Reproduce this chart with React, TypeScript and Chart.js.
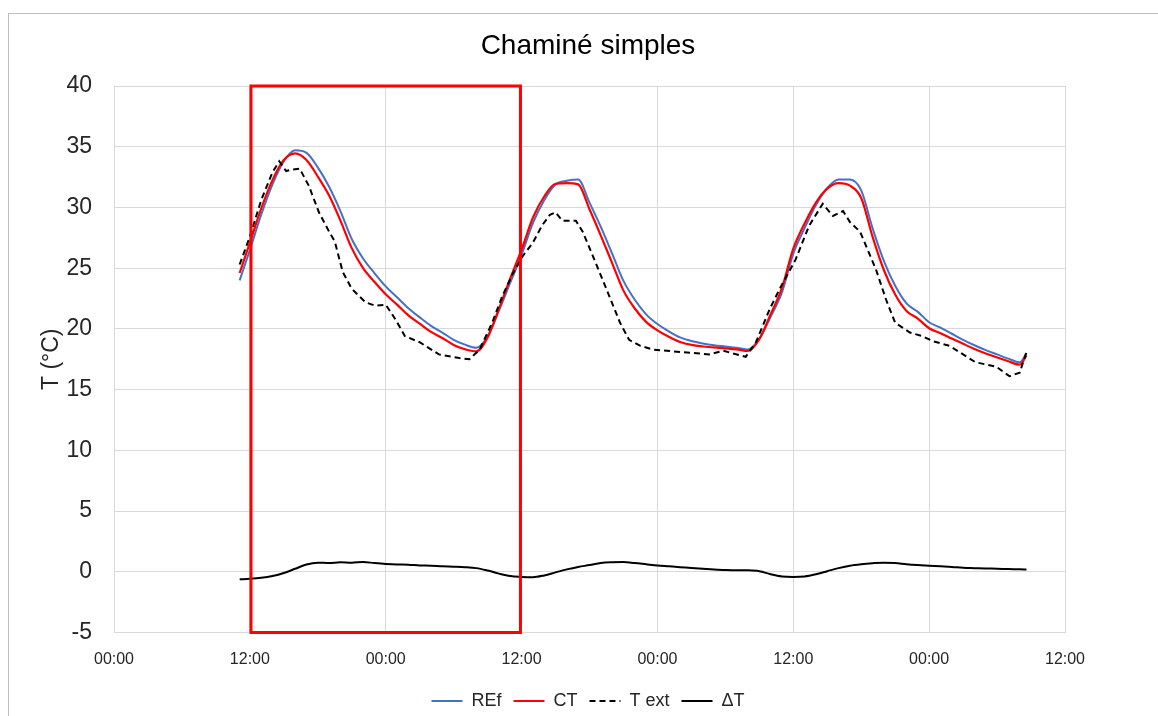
import React, { useEffect, useRef } from "react";
import { Chart, registerables } from "chart.js";

Chart.register(...registerables);

const chartTitle = "Chaminé simples";
const yAxisTitle = "T (°C)";
const seriesNames = ["REf", "CT", "T ext", "ΔT"];

// time in hours since the first 00:00 on the axis
const hours = [
  11.1, 12, 13, 14, 15, 16, 17, 18, 19, 20, 21, 22, 23, 24, 25, 26, 27, 28, 29, 30,
  31, 32, 33, 34, 35, 36, 37, 38, 39, 40, 41, 42, 43, 44, 45, 46, 47, 48, 49, 50,
  51, 52, 53, 54, 55, 56, 57, 58, 59, 60, 61, 62, 63, 64, 65, 66, 67, 68, 69, 70,
  71, 72, 73, 74, 75, 76, 77, 78, 79, 80, 80.6,
];

const refValues = [
  24.0, 26.5, 29.4, 31.9, 33.8, 34.7, 34.5, 33.3, 31.7, 29.7, 27.4, 25.8, 24.6, 23.5, 22.6, 21.7, 20.95, 20.25, 19.7, 19.1,
  18.7, 18.45, 19.4, 21.5, 23.8, 26.1, 28.7, 30.6, 31.9, 32.2, 32.3, 30.4, 28.4, 26.2, 23.95, 22.4, 21.2, 20.4, 19.8, 19.3,
  19.0, 18.8, 18.65, 18.55, 18.45, 18.3, 19.2, 21.0, 23.0, 26.2, 28.3, 30.2, 31.6, 32.3, 32.3, 31.4, 28.3, 25.6, 23.55, 22.1,
  21.4, 20.55, 20.1, 19.6, 19.1, 18.65, 18.25, 17.9, 17.55, 17.25, 18.0,
];

const ctValues = [
  24.6, 27.1, 29.9, 32.25, 33.9, 34.45, 33.9, 32.55, 30.98, 28.92, 26.65, 25.0, 23.88, 22.85, 22.0, 21.12, 20.43, 19.75, 19.25, 18.68,
  18.32, 18.15, 19.3, 21.65, 24.15, 26.52, 29.15, 30.9, 31.95, 32.0, 31.9, 29.85, 27.68, 25.42, 23.15, 21.68, 20.58, 19.88, 19.35, 18.92,
  18.68, 18.55, 18.47, 18.4, 18.32, 18.18, 19.15, 21.2, 23.38, 26.62, 28.68, 30.4, 31.55, 32.0, 31.8, 30.78, 27.6, 24.85, 22.83, 21.48,
  20.85, 20.05, 19.65, 19.2, 18.77, 18.35, 17.98, 17.65, 17.33, 17.05, 17.82,
];

const deltaValues = [
  -0.62, -0.58, -0.5, -0.35, -0.1, 0.25, 0.6, 0.75, 0.72, 0.78, 0.75, 0.8, 0.72, 0.65, 0.6, 0.58, 0.52, 0.5, 0.45, 0.42,
  0.38, 0.3, 0.1, -0.15, -0.35, -0.42, -0.45, -0.3, -0.05, 0.2, 0.4, 0.55, 0.72, 0.78, 0.8, 0.72, 0.62, 0.52, 0.45, 0.38,
  0.32, 0.25, 0.18, 0.15, 0.13, 0.12, 0.05, -0.2, -0.38, -0.42, -0.38, -0.2, 0.05, 0.3, 0.5, 0.62, 0.7, 0.75, 0.72, 0.62,
  0.55, 0.5, 0.45, 0.4, 0.33, 0.3, 0.27, 0.25, 0.22, 0.2, 0.18,
];

const textHours = [
  11.1, 12, 13, 14, 14.6, 15.2, 15.6, 16.4, 17.2, 18.1, 19, 19.5, 20.2, 21, 22.2, 23.1, 24, 24.85, 25.7, 27,
  28.7, 30.5, 31.4, 32.3, 33.4, 34.3, 35.2, 36.1, 37, 37.8, 38.5, 39, 39.6, 40.8, 41.4, 42.3, 43.4, 44.7, 45.5, 46.5,
  47.6, 50, 52.6, 53.8, 55.8, 56.7, 57.9, 58.8, 60.2, 61.4, 62.6, 63.5, 64.4, 65, 65.9, 67.3, 68.2, 69, 70.3, 71.4,
  72.3, 73.8, 76.1, 77.9, 79.1, 80, 80.6,
];

const textValues = [
  25.3, 27.6, 30.6, 32.9, 33.8, 33.0, 33.1, 33.2, 31.8, 29.6, 28.0, 27.2, 24.7, 23.3, 22.2, 21.9, 22.0, 20.8, 19.4, 18.9,
  17.9, 17.6, 17.5, 18.3, 20.5, 22.7, 24.5, 26.0, 27.1, 28.5, 29.4, 29.6, 28.9, 28.9, 28.0, 26.0, 23.5, 20.5, 19.1, 18.6,
  18.3, 18.1, 17.9, 18.2, 17.7, 18.9, 21.6, 23.3, 25.7, 28.5, 30.3, 29.3, 29.7, 28.8, 28.0, 24.9, 22.4, 20.5, 19.7, 19.4,
  19.0, 18.6, 17.25, 16.9, 16.1, 16.4, 18.1,
];

// highlighted period (hours) of the red frame
const highlightStart = 12.1;
const highlightEnd = 35.9;
const highlightTop = 40;
const highlightBottom = -5;

const xMin = 0;
const xMax = 84;
const xStep = 12;
const yMin = -5;
const yMax = 40;
const yStep = 5;

const FONT = "'Liberation Sans', Arial, sans-serif";

const toPoints = (xs: number[], ys: number[]) => xs.map((x, i) => ({ x, y: ys[i] }));

const highlightPlugin = {
  id: "highlightFrame",
  afterDatasetsDraw(chart: any) {
    const { ctx, scales } = chart;
    const x1 = scales.x.getPixelForValue(highlightStart);
    const x2 = scales.x.getPixelForValue(highlightEnd);
    const y1 = scales.y.getPixelForValue(highlightTop);
    const y2 = scales.y.getPixelForValue(highlightBottom);
    ctx.save();
    ctx.strokeStyle = "#FF0000";
    ctx.lineWidth = 3;
    ctx.strokeRect(x1, y1, x2 - x1, y2 - y1);
    ctx.restore();
  },
};

const legendShiftPlugin = {
  id: "legendShift",
  afterLayout(chart: any) {
    if (chart.legend) {
      chart.legend.top += 4;
      chart.legend.bottom += 4;
    }
  },
};

export default function App() {
  const canvasRef = useRef<HTMLCanvasElement | null>(null);

  useEffect(() => {
    if (!canvasRef.current) return;
    const chart = new Chart(canvasRef.current, {
      type: "line",
      data: {
        datasets: [
          {
            label: seriesNames[0],
            data: toPoints(hours, refValues),
            borderColor: "#4472C4",
            backgroundColor: "#4472C4",
            borderWidth: 2,
            pointRadius: 0,
            cubicInterpolationMode: "monotone",
            order: 4,
          },
          {
            label: seriesNames[1],
            data: toPoints(hours, ctValues),
            borderColor: "#FF0000",
            backgroundColor: "#FF0000",
            borderWidth: 2.2,
            pointRadius: 0,
            cubicInterpolationMode: "monotone",
            order: 3,
          },
          {
            label: seriesNames[2],
            data: toPoints(textHours, textValues),
            borderColor: "#000000",
            backgroundColor: "#000000",
            borderWidth: 2,
            borderDash: [6, 4],
            pointRadius: 0,
            order: 2,
          },
          {
            label: seriesNames[3],
            data: toPoints(hours, deltaValues),
            borderColor: "#000000",
            backgroundColor: "#000000",
            borderWidth: 2,
            pointRadius: 0,
            cubicInterpolationMode: "monotone",
            order: 1,
          },
        ],
      },
      options: {
        animation: false,
        responsive: false,
        maintainAspectRatio: false,
        layout: { padding: { left: 18, right: 0, top: 0, bottom: 0 } },
        plugins: {
          title: {
            display: true,
            text: chartTitle,
            color: "#000000",
            font: { family: FONT, size: 28, weight: "normal" },
            padding: { top: 29, bottom: 23.4 },
          },
          legend: {
            position: "bottom",
            labels: {
              color: "#262626",
              font: { family: FONT, size: 18 },
              usePointStyle: true,
              pointStyle: "line",
              pointStyleWidth: 31,
              boxHeight: 18,
              padding: 12,
              sort: (a: any, b: any) => a.datasetIndex - b.datasetIndex,
              generateLabels: (chart: any) => {
                const items = Chart.defaults.plugins.legend.labels.generateLabels(chart);
                items.forEach((it: any) => {
                  const ds = chart.data.datasets[it.datasetIndex];
                  it.lineDash = ds.borderDash || [];
                  it.strokeStyle = ds.borderColor;
                  it.lineWidth = 2;
                });
                return items;
              },
            },
          },
          tooltip: { enabled: false },
        },
        scales: {
          x: {
            type: "linear",
            min: xMin,
            max: xMax,
            afterFit: (scale: any) => {
              scale.height = 43.5;
            },
            afterBuildTicks: (scale: any) => {
              const t = [];
              for (let v = xMin; v <= xMax; v += xStep) t.push({ value: v });
              scale.ticks = t;
            },
            ticks: {
              stepSize: xStep,
              padding: 17,
              color: "#262626",
              font: { family: FONT, size: 16 },
              maxRotation: 0,
              autoSkip: false,
              callback: (v: any) => {
                const h = ((Number(v) % 24) + 24) % 24;
                return String(h).padStart(2, "0") + ":00";
              },
            },
            grid: { color: "#D9D9D9", lineWidth: 1, drawTicks: false },
            border: { color: "#D9D9D9" },
          },
          y: {
            min: yMin,
            max: yMax,
            afterFit: (scale: any) => {
              scale.width = 96;
            },
            ticks: {
              stepSize: yStep,
              padding: 22,
              color: "#262626",
              font: { family: FONT, size: 23 },
            },
            title: {
              display: true,
              text: yAxisTitle,
              color: "#262626",
              font: { family: FONT, size: 23 },
              padding: { top: 20, bottom: 0 },
            },
            grid: { color: "#D9D9D9", lineWidth: 1, drawTicks: false },
            border: { color: "#D9D9D9" },
          },
          yRight: {
            position: "right",
            min: yMin,
            max: yMax,
            afterFit: (scale: any) => {
              scale.width = 93;
            },
            ticks: { display: false },
            grid: { display: false, drawTicks: false },
            border: { display: false },
          },
        },
      },
      plugins: [highlightPlugin, legendShiftPlugin],
    });
    return () => chart.destroy();
  }, []);

  return (
    <div style={{ position: "fixed", left: 0, top: 0, width: 1158, height: 716, background: "#fff" }}>
      <div
        style={{
          position: "absolute",
          left: 8,
          top: 13,
          width: 1150,
          height: 703,
          borderTop: "1px solid #C0C0C0",
          borderLeft: "1px solid #C0C0C0",
          boxSizing: "border-box",
        }}
      />
      <canvas
        ref={canvasRef}
        width={1158}
        height={716}
        style={{ position: "absolute", left: 0, top: 0, width: 1158, height: 716 }}
      />
    </div>
  );
}
